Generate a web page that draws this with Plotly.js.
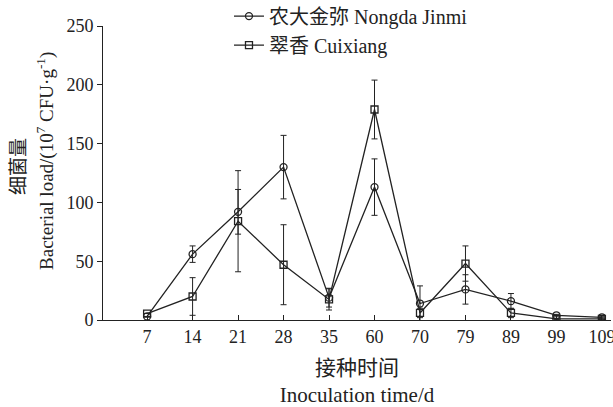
<!DOCTYPE html>
<html><head><meta charset="utf-8">
<script src="https://cdn.plot.ly/plotly-3.0.1.min.js"></script>
<style>html,body{margin:0;padding:0;background:#fff}#chart{width:613px;height:407px}</style>
</head><body><div id="chart"></div>
<script>
const days = ["7","14","21","28","35","60","70","79","89","99","109"];
const jinmiName = "农大金弥 Nongda Jinmi";
const jinmi = [3, 56, 92, 130, 19, 113, 14, 26, 16, 4, 2.3];
const jinmiErr = [0, 7, 19, 27, 8, 24, 15, 12.5, 6.5, 0.8, 0.5];
const cuiName = "翠香 Cuixiang";
const cuixiang = [5.5, 20, 84, 47, 17.5, 179, 6, 48, 6, 1, 1];
const cuixiangErr = [0, 16, 43, 34, 9, 25, 4, 15, 4, 0.5, 0.5];
const sigDays = ["14", "28", "60"];
const sigText = ["**", "****", "****"];
const sigY = [76, 160, 206];
const yTitleCn = "细菌量";
const yTitleEn = "Bacterial load/(10<sup>7</sup> CFU·g<sup>-1</sup>)";

const fam = "Liberation Serif, Times New Roman, Noto Sans CJK SC, serif";
const ink = "#222";

const traces = [
  {x: days, y: jinmi, name: jinmiName, type: "scatter", mode: "lines+markers",
   line: {color: ink, width: 1.3},
   marker: {symbol: "circle-open", size: 7, color: ink, line: {width: 1.3}},
   error_y: {type: "data", array: jinmiErr, visible: true, color: ink, thickness: 1, width: 3}},
  {x: days, y: cuixiang, name: cuiName, type: "scatter", mode: "lines+markers",
   line: {color: ink, width: 1.3},
   marker: {symbol: "square-open", size: 7, color: ink, line: {width: 1.3}},
   error_y: {type: "data", array: cuixiangErr, visible: true, color: ink, thickness: 1, width: 3}}
];

const annotations = sigDays.map((d, i) => ({
  x: d, y: sigY[i], xref: "x", yref: "y", text: sigText[i], showarrow: false,
  font: {family: fam, size: 16, color: ink}
}));
annotations.push(
  {xref: "paper", yref: "paper", x: -0.1654, y: 0.524, xanchor: "center", yanchor: "middle",
   textangle: -90, showarrow: false, text: yTitleCn, font: {family: fam, size: 19, color: ink}},
  {xref: "paper", yref: "paper", x: -0.1122, y: 0.541, xanchor: "center", yanchor: "middle",
   textangle: -90, showarrow: false, text: yTitleEn, font: {family: fam, size: 19, color: ink}}
);

const layout = {
  width: 613, height: 407,
  margin: {l: 103, r: 2, t: 26, b: 87, autoexpand: false},
  paper_bgcolor: "#fff", plot_bgcolor: "#fff",
  font: {family: fam, size: 18, color: ink},
  showlegend: true,
  legend: {x: 0.248, y: 1.1, xanchor: "left", yanchor: "top", itemwidth: 30,
           font: {family: fam, size: 20, color: ink}, bgcolor: "rgba(0,0,0,0)", tracegroupgap: 0},
  xaxis: {type: "category", range: [-0.97, 10.2], showline: true, linecolor: ink, linewidth: 1,
          ticks: "inside", ticklen: 5, tickcolor: ink, showgrid: false, zeroline: false,
          tickfont: {family: fam, size: 18, color: ink},
          title: {text: "接种时间<br>Inoculation time/d", font: {family: fam, size: 21, color: ink}, standoff: 14}},
  yaxis: {range: [0, 250], tickvals: [0, 50, 100, 150, 200, 250], showline: true, linecolor: ink, linewidth: 1,
          ticks: "outside", ticklen: 5, tickcolor: ink, showgrid: false, zeroline: false,
          tickfont: {family: fam, size: 18, color: ink}},
  annotations: annotations
};

Plotly.newPlot("chart", traces, layout, {displayModeBar: false, staticPlot: true});
</script></body></html>
